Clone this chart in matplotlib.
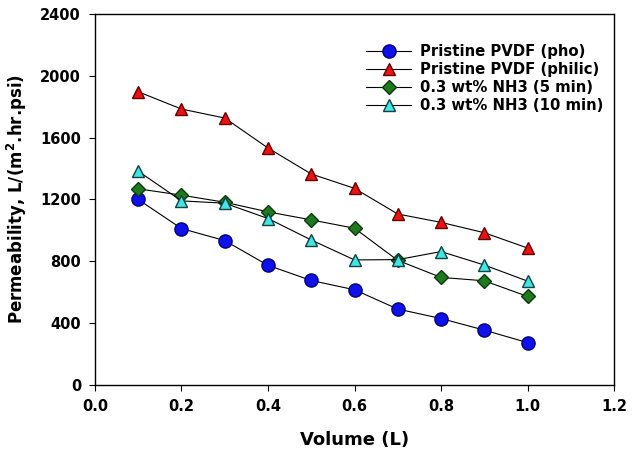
import matplotlib
matplotlib.use("Agg")
import matplotlib.pyplot as plt

volume = [0.1, 0.2, 0.3, 0.4, 0.5, 0.6, 0.7, 0.8, 0.9, 1.0]
pho = [1200, 1012, 934, 774, 676, 616, 491, 430, 355, 274]
philic = [1897, 1785, 1727, 1533, 1365, 1272, 1106, 1052, 985, 886]
nh3_5min = [1269, 1228, 1182, 1120, 1068, 1014, 806, 696, 674, 573]
nh3_10min = [1383, 1191, 1176, 1077, 938, 809, 811, 863, 776, 672]

labels = ["Pristine PVDF (pho)", "Pristine PVDF (philic)",
          "0.3 wt% NH3 (5 min)", "0.3 wt% NH3 (10 min)"]
xticks = [0.0, 0.2, 0.4, 0.6, 0.8, 1.0, 1.2]
yticks = [0, 400, 800, 1200, 1600, 2000, 2400]

plt.rcParams["font.family"] = "DejaVu Sans"
plt.rcParams["font.weight"] = "bold"

fig = plt.figure(figsize=(6.43, 4.62), dpi=100)
ax = fig.add_axes([0.1477, 0.1667, 0.8073, 0.803])

ax.plot(volume, pho, "-o", color="black", lw=0.8, mfc="#1010e8", mec="#000080",
        ms=9.5, label=labels[0])
ax.plot(volume, philic, "-^", color="black", lw=0.8, mfc="#ee1111", mec="#600000",
        ms=8.5, label=labels[1])
ax.plot(volume, nh3_5min, "-D", color="black", lw=0.8, mfc="#1f7a1f", mec="#0a3a0a",
        ms=7.5, label=labels[2])
ax.plot(volume, nh3_10min, "-^", color="black", lw=0.8, mfc="#40e6e6", mec="#104040",
        ms=8.5, label=labels[3])

ax.set_xlim(0, 1.2)
ax.set_ylim(0, 2400)
ax.set_xticks(xticks)
ax.set_yticks(yticks)
ax.set_xticklabels([f"{t:.1f}" for t in xticks])
ax.tick_params(direction="out", length=4, width=0.8, labelsize=10.5, pad=6)
for s in ax.spines.values():
    s.set_linewidth(1.0)

ax.set_xlabel("Volume (L)", fontsize=13, fontweight="bold", labelpad=12)
ax.set_ylabel("Permeability, L/(m$^\\mathbf{2}$.hr.psi)", fontsize=12,
              fontweight="bold", labelpad=8)

ax.legend(loc="upper right", bbox_to_anchor=(1.005, 0.955), frameon=False,
          handlelength=3.0, handletextpad=0.6, labelspacing=0.2,
          prop={"weight": "bold", "size": 10.7})

fig.savefig("out.png", dpi=100)
